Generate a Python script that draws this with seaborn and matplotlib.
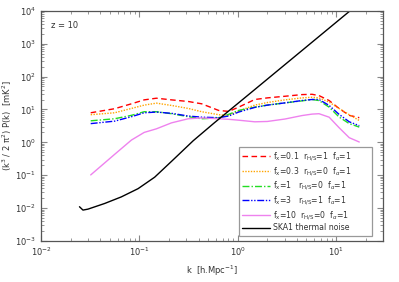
import numpy as np
import pandas as pd
import matplotlib
matplotlib.use("Agg")
import matplotlib.pyplot as plt
import seaborn as sns

# ---- data ----
k_model = [0.032, 0.056, 0.083, 0.112, 0.149, 0.212, 0.314, 0.43, 0.64, 0.81,
           1.02, 1.49, 2.0, 3.02, 4.5, 5.7, 6.7, 8.5, 10.7, 13.6, 17.2]
p_fx01 = [7.9, 10.5, 14.8, 19.5, 21.9, 19.5, 17.4, 14.8, 9.3, 8.7,
          11.7, 20.0, 22.4, 25.1, 28.2, 28.8, 26.3, 18.6, 10.7, 6.6, 5.6]
p_fx03 = [6.9, 7.9, 10.7, 13.5, 15.5, 13.2, 10.7, 8.5, 6.9, 6.6,
          8.9, 13.5, 16.2, 19.5, 22.4, 23.4, 22.4, 16.6, 10.7, 6.9, 4.6]
p_fx1 = [4.5, 5.2, 6.6, 8.5, 8.5, 7.4, 6.0, 5.2, 5.5, 7.1,
         9.3, 11.7, 13.5, 15.8, 18.2, 20.0, 18.6, 11.7, 5.9, 3.7, 2.9]
p_fx3 = [3.7, 4.4, 6.0, 7.9, 8.3, 7.6, 6.3, 5.8, 5.6, 6.3,
         8.3, 11.5, 13.5, 15.8, 18.6, 20.0, 20.0, 13.2, 7.1, 4.2, 3.2]
p_fx10 = [0.102, 0.43, 1.17, 2.0, 2.57, 3.9, 5.2, 5.5, 5.2, 5.0,
          4.7, 4.2, 4.3, 5.1, 6.5, 7.2, 7.4, 5.8, 2.8, 1.38, 1.02]

k_noise = [0.0246, 0.0267, 0.030, 0.0443, 0.0655, 0.097, 0.143, 0.212,
           0.353, 0.582, 1.39, 4.50, 12.9, 15.3]
p_noise = [0.011, 0.0087, 0.0093, 0.0138, 0.0219, 0.039, 0.087, 0.263,
           1.12, 3.98, 33.9, 617, 8318, 12600]

labels = [
    r"f$_\mathrm{x}$=0.1  r$_\mathrm{H/S}$=1  f$_\alpha$=1",
    r"f$_\mathrm{x}$=0.3  r$_\mathrm{H/S}$=0  f$_\alpha$=1",
    r"f$_\mathrm{x}$=1   r$_\mathrm{H/S}$=0  f$_\alpha$=1",
    r"f$_\mathrm{x}$=3   r$_\mathrm{H/S}$=1  f$_\alpha$=1",
    r"f$_\mathrm{x}$=10  r$_\mathrm{H/S}$=0  f$_\alpha$=1",
    "SKA1 thermal noise",
]
series = [p_fx01, p_fx03, p_fx1, p_fx3, p_fx10]
colors = ["red", "orange", "#22dd22", "blue", "violet", "black"]
styles = [(0, (4, 2.5)), (0, (1, 1)), (0, (5, 1.5, 1, 1.5)),
          (0, (5, 1.2, 1, 1.2, 1, 1.2)), "-", "-"]

sns.set_style("ticks")
plt.rcParams["font.family"] = ["DejaVu Sans"]
plt.rcParams["mathtext.fontset"] = "dejavusans"

fig = plt.figure(figsize=(3.99, 2.82), dpi=100)
ax = fig.add_axes([0.1028, 0.1454, 0.8572, 0.8166])

for p, lab, c, ls in zip(series, labels[:5], colors[:5], styles[:5]):
    df = pd.DataFrame({"k": k_model, "P": p})
    sns.lineplot(data=df, x="k", y="P", ax=ax, color=c, linestyle=ls,
                 linewidth=1.0, label=lab, estimator=None, sort=False)
dfn = pd.DataFrame({"k": k_noise, "P": p_noise})
sns.lineplot(data=dfn, x="k", y="P", ax=ax, color="black", linestyle="-",
             linewidth=1.0, label=labels[5], estimator=None, sort=False)

ax.set_xscale("log")
ax.set_yscale("log")
ax.set_xlim(0.01, 30)
ax.set_ylim(1e-3, 1e4)

ax.yaxis.set_major_locator(matplotlib.ticker.LogLocator(base=10, numticks=20))
ax.yaxis.set_minor_locator(matplotlib.ticker.LogLocator(base=10, subs=np.arange(2, 10), numticks=20))
ax.xaxis.set_minor_locator(matplotlib.ticker.LogLocator(base=10, subs=np.arange(2, 10), numticks=20))

for s in ax.spines.values():
    s.set_color("#555555")
    s.set_linewidth(0.9)
ax.tick_params(which="both", direction="in", top=True, right=True,
               colors="#888888", labelcolor="#333333", labelsize=6)
ax.tick_params(which="major", length=4, width=0.8)
ax.tick_params(which="minor", length=2, width=0.6)

ax.set_xlabel(r"k  [h.Mpc$^{-1}$]", fontsize=6, color="#333333", labelpad=4)
ax.set_ylabel(r"(k$^3$ / 2 π$^2$) P(k)  [mK$^2$]", fontsize=6, color="#333333")
ax.yaxis.set_label_coords(-0.078, 0.5)
ax.text(0.03, 0.955, "z = 10", transform=ax.transAxes, fontsize=6,
        color="#333333", va="top", ha="left")

leg = ax.legend(loc="lower left", bbox_to_anchor=(0.579, 0.023, 0.389, 0.375),
                mode="expand", borderaxespad=0,
                fontsize=5.6, frameon=True, fancybox=False, framealpha=1,
                edgecolor="#999999", handlelength=3.5, labelspacing=0.24,
                borderpad=0.42, handletextpad=0.5)
leg.get_frame().set_linewidth(0.9)
for t in leg.get_texts():
    t.set_color("#333333")

fig.savefig("out.png", dpi=100)
